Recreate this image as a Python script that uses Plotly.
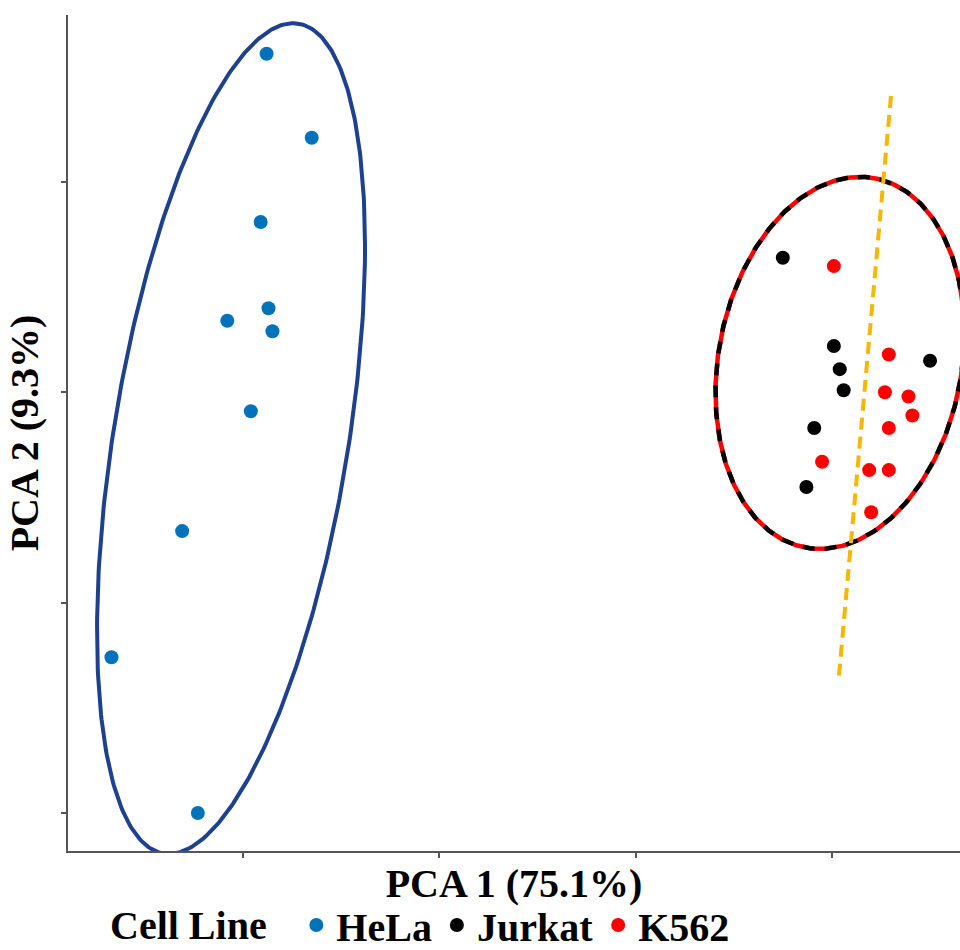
import numpy as np
import plotly.graph_objects as go

# ---- data (PCA scores, arbitrary units) ----
hela_x = [1.12, 1.35, 1.09, 1.13, 0.92, 1.15, 1.04, 0.69, 0.33, 0.77]
hela_y = [4.61, 4.21, 3.81, 3.40, 3.34, 3.29, 2.91, 2.34, 1.74, 1.00]

jurkat_x = [3.75, 4.01, 4.04, 4.06, 4.50, 3.91, 3.87]
jurkat_y = [3.64, 3.22, 3.11, 3.01, 3.15, 2.83, 2.55]

k562_x = [4.01, 4.29, 4.27, 4.39, 4.41, 4.29, 3.95, 4.19, 4.29, 4.20]
k562_y = [3.60, 3.18, 3.00, 2.98, 2.89, 2.83, 2.67, 2.63, 2.63, 2.43]

# confidence ellipses: centre and covariance (data units)
hela_ell_center = [0.939, 2.78]
hela_ell_cov = [[0.466, 0.625], [0.625, 3.90]]
blood_ell_center = [4.041, 3.140]
blood_ell_cov = [[0.402, 0.090], [0.090, 0.782]]

# separating line end points
sep_x = [4.301, 4.036]
sep_y = [4.409, 1.651]

x_ticks = [1, 2, 3, 4]
y_ticks = [1, 2, 3, 4]
x_range = [0.1085, 4.6526]
y_range = [0.819, 4.794]


def ellipse(center, cov, n=361):
    t = np.linspace(0, 2 * np.pi, n)
    L = np.linalg.cholesky(np.array(cov))
    pts = L @ np.vstack([np.cos(t), np.sin(t)])
    return pts[0] + center[0], pts[1] + center[1]


FONT = "Liberation Serif"
FS = 40
fig = go.Figure()

ex, ey = ellipse(hela_ell_center, hela_ell_cov)
fig.add_trace(go.Scatter(x=ex, y=ey, mode="lines", showlegend=False, hoverinfo="skip",
                         line=dict(color="#1D418E", width=4)))

bx, by = ellipse(blood_ell_center, blood_ell_cov)
fig.add_trace(go.Scatter(x=bx, y=by, mode="lines", showlegend=False, hoverinfo="skip",
                         line=dict(color="#FF0000", width=4.5)))
fig.add_trace(go.Scatter(x=bx, y=by, mode="lines", showlegend=False, hoverinfo="skip",
                         line=dict(color="#000000", width=4.5, dash="12px,10px")))

fig.add_trace(go.Scatter(x=sep_x, y=sep_y, mode="lines", showlegend=False, hoverinfo="skip",
                         line=dict(color="#F5B700", width=4, dash="12px,7px")))

fig.add_trace(go.Scatter(x=hela_x, y=hela_y, mode="markers", name="HeLa",
                         marker=dict(color="#0072BC", size=14)))
fig.add_trace(go.Scatter(x=jurkat_x, y=jurkat_y, mode="markers", name="Jurkat",
                         marker=dict(color="#000000", size=14)))
fig.add_trace(go.Scatter(x=k562_x, y=k562_y, mode="markers", name="K562",
                         marker=dict(color="#FF0000", size=14)))

axis_common = dict(showgrid=False, zeroline=False, showline=True, linecolor="#555555",
                   linewidth=2, ticks="outside", ticklen=5, tickcolor="#555555",
                   tickwidth=1.5, showticklabels=False)

fig.update_layout(
    width=960, height=950,
    margin=dict(l=68, r=0, t=15, b=99, autoexpand=False),
    paper_bgcolor="white", plot_bgcolor="white",
    font=dict(family=FONT, color="black"),
    xaxis=dict(range=x_range, tickvals=x_ticks, **axis_common,
               title=dict(text="PCA 1 (75.1%)", standoff=12,
                          font=dict(family=FONT, size=FS, weight="bold"))),
    yaxis=dict(range=y_range, tickvals=y_ticks, **axis_common,
               title=dict(text="PCA 2 (9.3%)", standoff=10,
                          font=dict(family=FONT, size=FS, weight="bold"))),
    legend=dict(orientation="h", x=0.256, xanchor="left", y=-0.0886, yanchor="middle",
                font=dict(family=FONT, size=FS, weight="bold"),
                itemsizing="trace", bgcolor="rgba(0,0,0,0)",
                borderwidth=0),
    annotations=[dict(text="Cell Line", xref="paper", yref="paper",
                      x=0.045, y=-0.0886, xanchor="left", yanchor="middle",
                      showarrow=False,
                      font=dict(family=FONT, size=FS, weight="bold", color="black"))],
)

fig.write_html("out.html",
               config={"displayModeBar": False},
               post_script="document.body.style.margin='0';document.body.style.overflow='hidden';")
